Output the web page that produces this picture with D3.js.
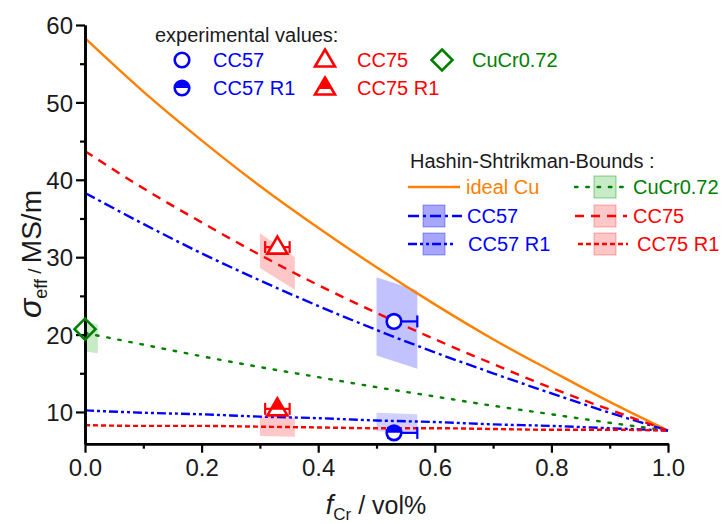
<!DOCTYPE html>
<html>
<head>
<meta charset="utf-8">
<script src="https://cdn.jsdelivr.net/npm/d3@7"></script>
<style>
    body { margin: 0; background: #fff; }
    svg { display: block; font-family: "Liberation Sans", Arial, sans-serif; }
</style>
</head>
<body>
<div id="chart"></div>
<script>
// Hashin-Shtrikman bounds (sigma in MS/m over f_Cr)
const fGrid     = [0, 0.1, 0.2, 0.3, 0.4, 0.5, 0.6, 0.7, 0.8, 0.9, 1.0];
const hsIdealCu = [58.3, 51.4, 45.1, 39.2, 33.8, 28.7, 23.9, 19.4, 15.3, 11.3, 7.6];
const hsCC75    = [43.7, 38.9, 34.5, 30.3, 26.4, 22.8, 19.4, 16.2, 13.1, 10.3, 7.6];
const hsCC57    = [38.3, 34.3, 30.5, 27.0, 23.7, 20.6, 17.7, 15.0, 12.4, 9.9, 7.6];
const hsCuCr    = [20.2, 18.7, 17.2, 15.8, 14.5, 13.2, 12.0, 10.8, 9.7, 8.6, 7.6];
const hsCC57R1  = [10.2, 9.9, 9.7, 9.4, 9.2, 8.9, 8.7, 8.4, 8.2, 7.9, 7.6];
const hsCC75R1  = [8.3, 8.2, 8.2, 8.1, 8.0, 7.9, 7.9, 7.8, 7.7, 7.7, 7.6];

// uncertainty bands of the bounds (f range, upper and lower sigma at both ends)
const bandNames = ["CuCr0.72", "CC75", "CC75 R1", "CC57", "CC57 R1"];
const bandF     = [[0, 0.022], [0.30, 0.36], [0.30, 0.36], [0.50, 0.57], [0.50, 0.57]];
const bandUpper = [[21.8, 21.3], [33.1, 30.0], [9.4, 9.3], [27.4, 25.7], [9.9, 9.7]];
const bandLower = [[17.8, 17.6], [28.6, 25.8], [6.9, 6.8], [17.3, 15.6], [7.5, 7.3]];

// experimental values
const expNames  = ["CC57", "CC57 R1", "CC75", "CC75 R1", "CuCr0.72"];
const expF      = [0.53, 0.53, 0.33, 0.33, 0.0];
const expSigma  = [21.7, 7.3, 31.3, 10.4, 20.7];
const expErrLo  = [0.01, 0.01, 0.021, 0.021, 0];
const expErrHi  = [0.04, 0.04, 0.021, 0.021, 0];

// axis ticks
const xTicks = [0, 0.2, 0.4, 0.6, 0.8, 1.0];
const xMinor = [0.1, 0.3, 0.5, 0.7, 0.9];
const yTicks = [10, 20, 30, 40, 50, 60];
const yMinor = [15, 25, 35, 45, 55];

const BLUE = "#0000ff", RED = "#ff0000", ORANGE = "#ff8000", GREEN = "#008000";

const curves = [
    {name: "ideal Cu", values: hsIdealCu, color: ORANGE, dash: null},
    {name: "CuCr0.72", values: hsCuCr, color: GREEN, dash: "2.5,8.8", cap: "round"},
    {name: "CC57", values: hsCC57, color: BLUE, dash: "11,4,3,4"},
    {name: "CC75", values: hsCC75, color: RED, dash: "9,7"},
    {name: "CC57 R1", values: hsCC57R1, color: BLUE, dash: "9,3,3,3,3,3"},
    {name: "CC75 R1", values: hsCC75R1, color: RED, dash: "5,3"}
];
const bandFill = {
    "CuCr0.72": "rgba(0,160,0,0.22)",
    "CC75": "rgba(255,0,0,0.22)",
    "CC75 R1": "rgba(255,0,0,0.22)",
    "CC57": "rgba(0,0,255,0.24)",
    "CC57 R1": "rgba(0,0,255,0.18)"
};
const markerStyle = {
    "CC57": {type: "circle", color: BLUE},
    "CC57 R1": {type: "circleHalf", color: BLUE},
    "CC75": {type: "triangle", color: RED},
    "CC75 R1": {type: "triangleHalf", color: RED},
    "CuCr0.72": {type: "diamond", color: GREEN}
};

const width = 722, height = 524;
const svg = d3.select("#chart").append("svg")
    .attr("width", width)
    .attr("height", height);

const x = d3.scaleLinear().domain([0, 1]).range([85, 668]);
const y = d3.scaleLinear().domain([5.9, 60]).range([443.7, 25]);

// bands
bandNames.forEach((name, i) => {
    const pts = [
        [x(bandF[i][0]), y(bandUpper[i][0])],
        [x(bandF[i][1]), y(bandUpper[i][1])],
        [x(bandF[i][1]), y(bandLower[i][1])],
        [x(bandF[i][0]), y(bandLower[i][0])]
    ];
    svg.append("polygon")
        .attr("points", pts.map(p => p.join(",")).join(" "))
        .attr("fill", bandFill[name]);
});

// bound curves
const line = d3.line()
    .x((d, i) => x(fGrid[i]))
    .y(d => y(d))
    .curve(d3.curveMonotoneX);

curves.forEach(c => {
    svg.append("path")
        .attr("d", line(c.values))
        .attr("fill", "none")
        .attr("stroke", c.color)
        .attr("stroke-width", 2.4)
        .attr("stroke-dasharray", c.dash)
        .attr("stroke-linecap", c.cap || "butt");
});

// axes
const xAxis = d3.axisBottom(x).tickValues(xTicks).tickFormat(d3.format(".1f"))
    .tickSize(9).tickSizeOuter(0).tickPadding(6);
const xAxisMinor = d3.axisBottom(x).tickValues(xMinor).tickFormat("").tickSize(5).tickSizeOuter(0);
const yAxis = d3.axisLeft(y).tickValues(yTicks).tickFormat(d3.format("d"))
    .tickSize(9).tickSizeOuter(0).tickPadding(3);
const yAxisMinor = d3.axisLeft(y).tickValues(yMinor).tickFormat("").tickSize(5).tickSizeOuter(0);

const gx = svg.append("g").attr("transform", `translate(0,${y(5.9)})`);
gx.call(xAxis);
gx.append("g").call(xAxisMinor);
const gy = svg.append("g").attr("transform", `translate(${x(0)},0)`);
gy.call(yAxis);
gy.append("g").call(yAxisMinor);

[gx, gy].forEach(g => {
    g.selectAll("path.domain").attr("stroke", "#000").attr("stroke-width", 2.6);
    g.selectAll(".tick line").attr("stroke", "#000").attr("stroke-width", 2.2);
    g.selectAll(".tick text")
        .attr("fill", "#1a1a1a")
        .style("font-size", "24px")
        .style("font-family", "'Liberation Sans', Arial, sans-serif");
});
gy.selectAll(".tick text").attr("dy", "0.36em");

// axis titles
const xTitle = svg.append("text")
    .attr("x", 376).attr("y", 514)
    .attr("text-anchor", "middle")
    .attr("fill", "#1a1a1a")
    .style("font-size", "25px");
xTitle.append("tspan").text("f").style("font-style", "italic").style("font-size", "27px");
xTitle.append("tspan").text("Cr").attr("dy", 6).style("font-size", "17px");
xTitle.append("tspan").text(" / vol%").attr("dy", -6);

const yTitle = svg.append("text")
    .attr("transform", "translate(41,254) rotate(-90)")
    .attr("text-anchor", "middle")
    .attr("fill", "#1a1a1a")
    .style("font-size", "28px");
yTitle.append("tspan").text("σ").style("font-style", "italic").style("font-size", "32px");
yTitle.append("tspan").text("eff").attr("dy", 6).style("font-size", "18px");
yTitle.append("tspan").text(" / ").attr("dy", -6).style("font-size", "19px");
yTitle.append("tspan").text("MS/m");

// marker shapes
function drawMarker(g, type, color) {
    if (type === "circle" || type === "circleHalf") {
        g.append("circle").attr("r", 7.3).attr("fill", "#fff")
            .attr("stroke", color).attr("stroke-width", 2.6);
        if (type === "circleHalf") {
            g.append("path").attr("d", "M-7.3,0 A7.3,7.3 0 0 1 7.3,0 Z").attr("fill", color);
        }
    } else if (type === "triangle" || type === "triangleHalf") {
        g.append("path").attr("d", "M0,-10.5 L10,6.5 L-10,6.5 Z").attr("fill", "#fff")
            .attr("stroke", color).attr("stroke-width", 2.6).attr("stroke-linejoin", "miter");
        if (type === "triangleHalf") {
            g.append("path").attr("d", "M0,-10.5 L6.8,1 L-6.8,1 Z").attr("fill", color);
        }
    } else if (type === "diamond") {
        g.append("path").attr("d", "M0,-10.5 L10.5,0 L0,10.5 L-10.5,0 Z").attr("fill", "none")
            .attr("stroke", color).attr("stroke-width", 2.6);
    }
}

// experimental points with horizontal error bars
expNames.forEach((name, i) => {
    const st = markerStyle[name];
    const cx = x(expF[i]), cy = y(expSigma[i]);
    if (expErrHi[i] > 0 || expErrLo[i] > 0) {
        const x0 = x(expF[i] - expErrLo[i]), x1 = x(expF[i] + expErrHi[i]);
        const eb = svg.append("g").attr("stroke", st.color).attr("stroke-width", 2.2);
        eb.append("line").attr("x1", x0).attr("x2", x1).attr("y1", cy).attr("y2", cy);
        eb.append("line").attr("x1", x0).attr("x2", x0).attr("y1", cy - 6).attr("y2", cy + 6);
        eb.append("line").attr("x1", x1).attr("x2", x1).attr("y1", cy - 6).attr("y2", cy + 6);
    }
    drawMarker(svg.append("g").attr("transform", `translate(${cx},${cy})`), st.type, st.color);
});

// legend: experimental values
svg.append("text").attr("x", 155).attr("y", 42).attr("fill", "#1a1a1a")
    .style("font-size", "20px").text("experimental values:");
const expLegend = [
    {name: "CC57", mx: 182, tx: 213, row: 0},
    {name: "CC75", mx: 325, tx: 357, row: 0},
    {name: "CuCr0.72", mx: 442, tx: 472, row: 0},
    {name: "CC57 R1", mx: 182, tx: 213, row: 1},
    {name: "CC75 R1", mx: 325, tx: 357, row: 1}
];
expLegend.forEach(d => {
    const st = markerStyle[d.name];
    const cy = 60 + d.row * 28;
    drawMarker(svg.append("g").attr("transform", `translate(${d.mx},${cy})`), st.type, st.color);
    svg.append("text").attr("x", d.tx).attr("y", cy + 7).attr("fill", st.color)
        .style("font-size", "20px").text(d.name);
});

// legend: Hashin-Shtrikman bounds
svg.append("text").attr("x", 410).attr("y", 168).attr("fill", "#1a1a1a")
    .style("font-size", "20px").text("Hashin-Shtrikman-Bounds :");
const hsLegend = [
    {name: "ideal Cu", x0: 408, x1: 460, bx: null, tx: 466, cy: 187},
    {name: "CC57", x0: 408, x1: 462, bx: 423, tx: 467, cy: 216},
    {name: "CC57 R1", x0: 408, x1: 453, bx: 423, tx: 468, cy: 244},
    {name: "CuCr0.72", x0: 575, x1: 627, bx: 594, tx: 633, cy: 187},
    {name: "CC75", x0: 575, x1: 627, bx: 594, tx: 633, cy: 216},
    {name: "CC75 R1", x0: 578, x1: 628, bx: 594, tx: 637, cy: 244}
];
const bandStroke = {"CuCr0.72": "rgba(0,160,0,0.45)", "CC75": "rgba(255,0,0,0.3)", "CC75 R1": "rgba(255,0,0,0.3)",
    "CC57": "rgba(0,0,255,0.35)", "CC57 R1": "rgba(0,0,255,0.35)"};
hsLegend.forEach(d => {
    const c = curves.find(k => k.name === d.name);
    if (d.bx !== null) {
        svg.append("rect").attr("x", d.bx).attr("y", d.cy - 11).attr("width", 22).attr("height", 22)
            .attr("fill", d.name === "CC57" || d.name === "CC57 R1" ? "rgba(0,0,255,0.35)" : bandFill[d.name])
            .attr("stroke", bandStroke[d.name]).attr("stroke-width", 1);
    }
    svg.append("line").attr("x1", d.x0).attr("x2", d.x1).attr("y1", d.cy).attr("y2", d.cy)
        .attr("stroke", c.color).attr("stroke-width", 2.4)
        .attr("stroke-dasharray", c.dash).attr("stroke-linecap", c.cap || "butt");
    svg.append("text").attr("x", d.tx).attr("y", d.cy + 7).attr("fill", c.color)
        .style("font-size", "20px").text(d.name);
});
</script>
</body>
</html>
